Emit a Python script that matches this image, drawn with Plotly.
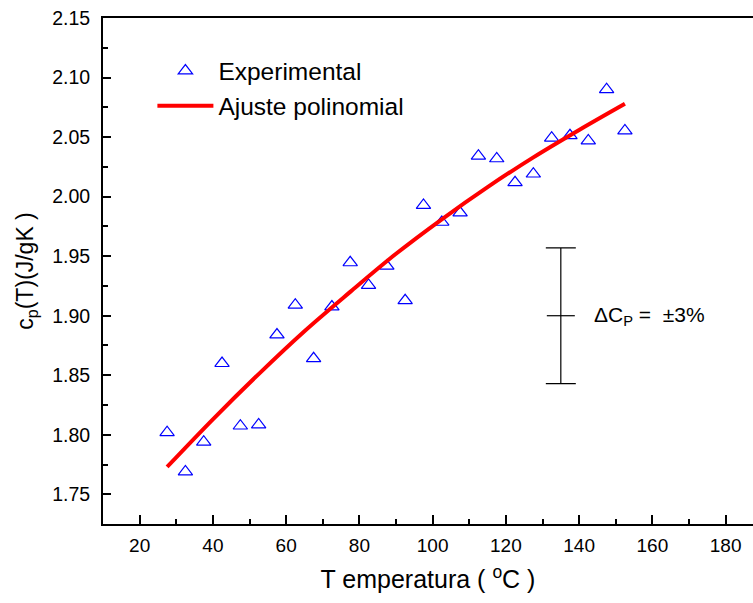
import plotly.graph_objects as go

# ---- data ----
temp_exp = [27.5, 32.5, 37.5, 42.5, 47.5, 52.5, 57.5, 62.5, 67.5, 72.5, 77.5, 82.5, 87.5,
            92.5, 97.5, 102.5, 107.5, 112.5, 117.5, 122.5, 127.5, 132.5, 137.5, 142.5,
            147.5, 152.5]
cp_exp = [1.802, 1.769, 1.794, 1.860, 1.8075, 1.8085, 1.884, 1.909, 1.864, 1.9075, 1.9446,
          1.9256, 1.9417, 1.9127, 1.9928, 1.9786, 1.9864, 2.0342, 2.0319, 2.0118, 2.0191,
          2.0493, 2.0513, 2.047, 2.090, 2.0554]

temp_fit = [27.5, 40, 52.5, 65, 77.5, 90, 102.5, 115, 127.5, 140, 152.5]
cp_fit = [1.773, 1.813, 1.851, 1.887, 1.920, 1.952, 1.981, 2.008, 2.033, 2.056, 2.078]

err_temp = [135]
err_cp = [1.900]
err_half = [0.057]

x_title = "T emperatura ( <sup>o</sup>C )"
y_title = "c<sub>p</sub>(T)(J/gK )"
legend_names = ["Experimental", "Ajuste polinomial"]
err_label = "\u0394C<sub>P</sub> =  \u00b13%"

FONT = "Arial, 'Liberation Sans', sans-serif"

fig = go.Figure()

fig.add_trace(go.Scatter(
    x=temp_exp, y=cp_exp, mode="markers", name=legend_names[0],
    marker=dict(symbol="triangle-up-open", size=12.5, color="#0000FF",
                line=dict(width=1.2, color="#0000FF")),
))
fig.add_trace(go.Scatter(
    x=temp_fit, y=cp_fit, mode="lines", name=legend_names[1],
    line=dict(color="#FF0000", width=4, shape="spline"),
))
fig.add_trace(go.Scatter(
    x=err_temp, y=err_cp, mode="markers", showlegend=False,
    marker=dict(symbol="line-ew", size=20, color="black",
                line=dict(width=1.2, color="black")),
    error_y=dict(type="data", array=err_half, visible=True, color="black",
                 thickness=1.2, width=15),
))

fig.add_annotation(
    x=err_temp[0], y=err_cp[0], xref="x", yref="y", text=err_label,
    showarrow=False, xanchor="left", yanchor="middle", xshift=31, yshift=0,
    font=dict(family=FONT, size=21, color="black"),
)

fig.update_layout(
    width=753, height=603,
    margin=dict(l=103, r=0, t=18, b=79),
    paper_bgcolor="white", plot_bgcolor="white",
    font=dict(family=FONT, color="black"),
    showlegend=True,
    legend=dict(x=0.076, y=0.94, xanchor="left", yanchor="top",
                bgcolor="rgba(0,0,0,0)", font=dict(family=FONT, size=24.5),
                itemwidth=56, tracegroupgap=0),
)

fig.update_xaxes(
    range=[10, 187.47], showgrid=False, zeroline=False,
    showline=True, linewidth=2, linecolor="black", mirror=True,
    ticks="inside", ticklen=9, tickwidth=2, tickcolor="black",
    tick0=0, dtick=20,
    minor=dict(ticks="inside", ticklen=5, tickwidth=2, tickcolor="black", dtick=10, showgrid=False),
    tickfont=dict(family=FONT, size=19),
    ticklabelstandoff=3,
    title=dict(text=x_title, font=dict(family=FONT, size=25), standoff=16),
)
fig.update_yaxes(
    range=[1.7251, 2.15], showgrid=False, zeroline=False,
    showline=True, linewidth=2, linecolor="black", mirror=False,
    ticks="inside", ticklen=8, tickwidth=2, tickcolor="black",
    tick0=1.75, dtick=0.05, tickformat=".2f",
    minor=dict(ticks="inside", ticklen=5, tickwidth=2, tickcolor="black", dtick=0.025, showgrid=False),
    tickfont=dict(family=FONT, size=19.5),
    ticklabelstandoff=7,
    title=dict(text=y_title, font=dict(family=FONT, size=23), standoff=12),
)

fig.write_html("out.html")
